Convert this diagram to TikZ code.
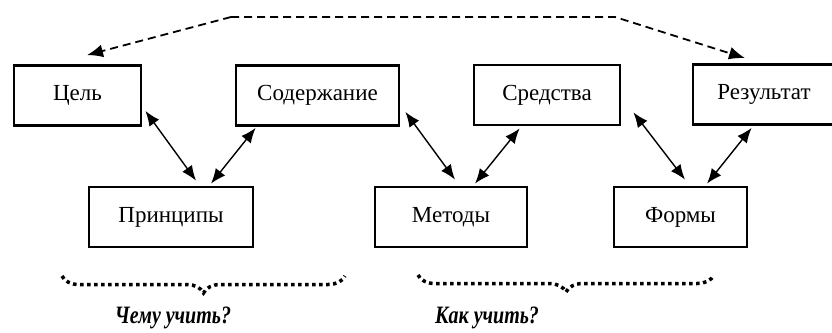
\documentclass[tikz,border=0pt]{standalone}
\usepackage{fontspec}
\setmainfont{Liberation Serif}
\usetikzlibrary{arrows.meta,calc,decorations.pathreplacing}
\newcommand{\narrowtext}[1]{\scalebox{0.8}[1]{#1}}
\begin{document}
\begin{tikzpicture}[x=1pt,y=-1pt,
  box/.style={draw,line width=2.8pt,minimum height=60pt,inner sep=0pt,font=\fontsize{23}{26}\selectfont},
  link/.style={line width=1.4pt,{Latex[length=15pt,width=12pt]}-{Latex[length=15pt,width=12pt]}},
  dlink/.style={line width=1.8pt,dash pattern=on 8pt off 5pt,-{Latex[length=16pt,width=13pt]}},
  dbrace/.style={line width=3.5pt,dash pattern=on 3.5pt off 3.5pt,decorate,decoration={brace,mirror,amplitude=17pt}},
  qlabel/.style={font=\fontsize{25}{28}\selectfont\bfseries\itshape,inner sep=0pt}]
\useasboundingbox (0,0) rectangle (832,332);
\node[box,minimum width=127pt] (cel) at (77.5,95.5) {Цель};
\node[box,minimum width=163pt] (sod) at (317.5,95.5) {Содержание};
\node[box,minimum width=146pt] (sred) at (547,95) {Средства};
\node[box,minimum width=142pt] (res) at (764,94.5) {Результат};
\node[box,minimum width=164pt] (prin) at (171,217) {Принципы};
\node[box,minimum width=152pt] (met) at (451,217) {Методы};
\node[box,minimum width=133pt] (form) at (680.5,217) {Формы};
\draw[link] ($(cel.south east)+(3,-16)$) -- ($(prin.north)+(25,-5)$);
\draw[link] ($(prin.north)+(40,-2)$) -- ($(sod.south west)+(21,1)$);
\draw[link] ($(sod.south east)+(5,-15)$) -- ($(met.north)+(4,-6)$);
\draw[link] ($(met.north)+(24,-2)$) -- ($(sred.south west)+(47,2)$);
\draw[link] ($(sred.south east)+(12,-14)$) -- ($(form.north)+(4.5,-6)$);
\draw[link] ($(form.north)+(26.5,-2)$) -- ($(res.south west)+(60,2)$);
\coordinate (bl) at (231,17);
\coordinate (br) at (615,17);
\draw[dlink] (bl) -- ($(cel.north)+(9.5,-9)$);
\draw[dlink] (bl) -- (br) -- ($(res.north)+(-19,-5)$);
\coordinate (b1a) at (62,276);
\coordinate (b1b) at (345,276);
\coordinate (b2a) at (418,275);
\coordinate (b2b) at (714,275);
\draw[dbrace] (b1a) -- (b1b);
\draw[dbrace] (b2a) -- (b2b);
\node[qlabel] (q1) at (173,318) {\narrowtext{Чему учить?}};
\node[qlabel] (q2) at (487,318) {\narrowtext{Как учить?}};
\end{tikzpicture}
\end{document}
